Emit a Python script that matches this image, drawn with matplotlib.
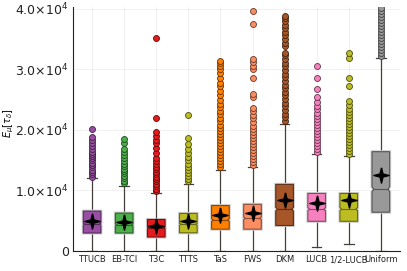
import numpy as np
import matplotlib
matplotlib.use("Agg")
import matplotlib.pyplot as plt
from matplotlib.patches import Polygon
import matplotlib.patheffects as pe
from matplotlib.ticker import FixedLocator

names = ['TTUCB', 'EB-TCI', 'T3C', 'TTTS', 'TaS', 'FWS', 'DKM', 'LUCB', '1/2-LUCB', 'Uniform']
colors = ['#984EA3', '#4DAF4A', '#E41A1C', '#BCBD22', '#FF7F00',
          '#FC8D62', '#A65628', '#F781BF', '#BCBD22', '#999999']

q1 = [2960, 2960, 2300, 3000, 3600, 3600, 4200, 4900, 4900, 6400]
med = [4440, 4280, 3800, 4400, 5100, 5400, 6900, 6900, 6900, 10200]
q3 = [6580, 6250, 5200, 6200, 7500, 7700, 11000, 9500, 9500, 16400]
means = [4940, 4770, 4100, 4900, 6000, 6200, 8400, 8000, 8500, 12600]
whislo = [0, 0, 0, 0, 0, 0, 0, 700, 1100, 0]
whishi = [12000, 10800, 9500, 11000, 13400, 13900, 21000, 16000, 15700, 31800]
notch = [150, 150, 120, 150, 200, 200, 300, 250, 250, 400]

fliers = [
    [12300, 12700, 13000, 13400, 13800, 14200, 14600, 15000, 15300, 15700,
     16100, 16400, 16800, 17300, 17800, 18400, 18900, 20200],
    [11200, 11600, 12000, 12400, 12800, 13200, 13600, 14000, 14400, 14900,
     15400, 15900, 16400, 16800, 17800, 18500],
    [9900, 10300, 10700, 11100, 11500, 11900, 12300, 12700, 13100, 13500,
     13900, 14300, 14800, 15300, 16200, 17000, 17800, 18400, 19000, 19600,
     22000, 35200],
    [11500, 11900, 12400, 12900, 13400, 13900, 14400, 15000, 15600, 16200,
     16800, 17600, 18600, 22400],
    [13800, 14300, 14800, 15300, 15800, 16300, 16800, 17300, 17800, 18300,
     18800, 19300, 19800, 20300, 20800, 21400, 22000, 22600, 23200, 23800,
     24300, 25000, 25800, 26500, 27200, 27700, 28600, 29400, 30000, 30600,
     31000, 31400],
    [14200, 14700, 15200, 15700, 16200, 16700, 17200, 17700, 18200, 18700,
     19200, 19700, 20200, 20700, 21300, 21900, 22500, 23100, 23700, 25400,
     26000, 28600, 30100, 30600, 31200, 31700, 37500, 39700],
    [21500, 22100, 22700, 23300, 23900, 24500, 25100, 25700, 26300, 26900,
     27500, 28100, 28700, 29300, 29900, 30500, 31100, 31700, 32300, 32700,
     33800, 34400, 35000, 35600, 36200, 36800, 37400, 38000, 38500, 38900],
    [16300, 16800, 17300, 17800, 18300, 18800, 19300, 19800, 20300, 20800,
     21300, 21800, 22300, 22800, 23400, 24000, 24600, 25500, 26700, 28600,
     30600],
    [16000, 16500, 17000, 17500, 18000, 18500, 19000, 19500, 20000, 20500,
     21000, 21500, 22000, 22500, 23000, 23500, 24100, 24800, 27200, 28600,
     31800, 32700],
    [32200, 32700, 33200, 33700, 34200, 34700, 35200, 35700, 36200, 36700,
     37200, 37700, 38200, 38700, 39200, 39700, 40100],
]

yticks = [0, 10000, 20000, 30000, 40000]
ytick_labels = ['0', '1.0×10$^{4}$', '2.0×10$^{4}$',
                '3.0×10$^{4}$', '4.0×10$^{4}$']


def darker(c, f=0.6):
    r, g, b = matplotlib.colors.to_rgb(c)
    return (r * f, g * f, b * f)


# four point star for the mean
t = np.linspace(0, 2 * np.pi, 9)[:-1] + np.pi / 2
rad = np.array([1.0, 0.28] * 4)
star = np.column_stack([rad * np.cos(t), rad * np.sin(t)])
star = np.vstack([star, star[:1]])

fig = plt.figure(figsize=(4.07, 2.71), dpi=100)
ax = fig.add_axes([0.179, 0.074, 0.804, 0.90])

pos = np.arange(1, len(names) + 1)
w = 0.55

stats = []
for i in range(len(names)):
    stats.append(dict(med=med[i], q1=q1[i], q3=q3[i], mean=means[i],
                      whislo=whislo[i], whishi=whishi[i], fliers=fliers[i],
                      label=names[i]))

res = ax.bxp(stats, positions=pos, widths=w, showbox=False, showmeans=True,
             showcaps=True, capwidths=0.3, manage_ticks=False,
             whiskerprops=dict(color='#45403c', lw=0.9),
             capprops=dict(color='#45403c', lw=0.9),
             medianprops=dict(visible=False),
             flierprops=dict(marker='o', markersize=4.3, markeredgewidth=0.6),
             meanprops=dict(marker=star, markersize=11, markerfacecolor='black',
                            markeredgecolor='black'),
             zorder=2)

# color fliers per group
for l, c in zip(res['fliers'], colors):
    l.set_markerfacecolor(c)
    l.set_markeredgecolor(darker(c, 0.4))
    l.set_zorder(3)
for l in res['means']:
    l.set_zorder(6)

for i, p in enumerate(pos):
    c = colors[i]
    h = w / 2
    d = w * 0.1
    verts = [(p - h, q1[i]), (p + h, q1[i]), (p + h, med[i] - notch[i]),
             (p + h - d, med[i]), (p + h, med[i] + notch[i]), (p + h, q3[i]),
             (p - h, q3[i]), (p - h, med[i] + notch[i]), (p - h + d, med[i]),
             (p - h, med[i] - notch[i])]
    box = Polygon(verts, closed=True, facecolor=c, edgecolor=darker(c, 0.55),
                  lw=0.8, zorder=4)
    box.set_path_effects([pe.Stroke(linewidth=2.2, foreground='#d0d0d0'),
                          pe.Normal()])
    ax.add_patch(box)
    ax.plot([p - h + d, p + h - d], [med[i], med[i]], color=darker(c, 0.55),
            lw=0.8, zorder=4.5)

ax.set_xlim(0.4, 10.6)
ax.set_ylim(0, 40300)
ax.set_xticks(pos)
ax.set_xticklabels(names, fontsize=6)
ax.yaxis.set_major_locator(FixedLocator(yticks))
ax.set_yticklabels(ytick_labels, fontsize=9)
ax.tick_params(axis='both', direction='in', length=0, pad=3,
               colors='#222222')
ax.grid(True, color='#000000', alpha=0.08, lw=0.5)
ax.set_axisbelow(True)
for s in ['top', 'right']:
    ax.spines[s].set_visible(False)
for s in ['left', 'bottom']:
    ax.spines[s].set_color('#222222')
    ax.spines[s].set_linewidth(0.8)
fig.text(0.022, 0.545, r'$E_\mu[\tau_\delta]$', fontsize=7, rotation=90,
         ha='center', va='center')

fig.savefig('out.png', dpi=100)
